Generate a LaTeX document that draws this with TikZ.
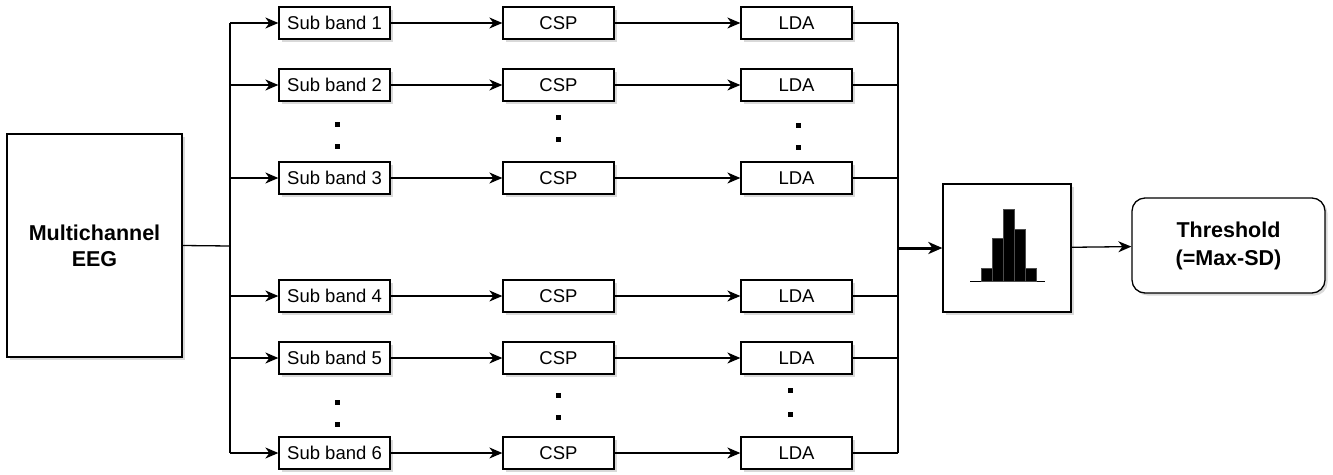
\documentclass[tikz,border=0pt]{standalone}
\usepackage{fontspec}
\setmainfont{Liberation Sans}
\usetikzlibrary{arrows.meta,shadows}
\begin{document}
\begin{tikzpicture}[x=1pt,y=-1pt,
  box/.style={draw,line width=1.3pt,fill=white,inner sep=0pt,
    drop shadow={shadow xshift=2.5pt,shadow yshift=-2.5pt,fill=black!25,opacity=0.6},
    font=\fontsize{18.5}{22}\selectfont},
  sb/.style={box,minimum width=111pt,minimum height=32pt},
  conn/.style={line width=1.3pt},
  arr/.style={conn,-{Stealth[length=13pt,width=11pt,inset=4pt]}},
  dot/.style={fill=black,inner sep=0pt,minimum size=5pt}]
\useasboundingbox (0,0) rectangle (1333,474);
% EEG
\node[box,minimum width=175pt,minimum height=223pt,align=center,
  font=\fontsize{21.5}{26}\selectfont\bfseries] (eeg) at (94.5,245.5) {Multichannel\\EEG};
% rows
\foreach \i/\y in {1/23,2/85,3/178,4/296,5/358,6/453}{
  \node[sb] (sb\i) at (334.5,\y) {Sub band \i};
  \node[sb] (csp\i) at (558.5,\y) {CSP};
  \node[sb] (lda\i) at (796.5,\y) {LDA};
  \coordinate (bl\i) at (230,\y);
  \coordinate (br\i) at (898,\y);
  \draw[arr] (bl\i) -- (sb\i);
  \draw[arr] (sb\i) -- (csp\i);
  \draw[arr] (csp\i) -- (lda\i);
  \draw[conn] (lda\i) -- (br\i);
}
% dots
\node[dot] (d1) at (337,124) {};
\node[dot] (d2) at (337,146) {};
\node[dot] (d3) at (558,117) {};
\node[dot] (d4) at (558,139) {};
\node[dot] (d5) at (798,125) {};
\node[dot] (d6) at (798,147) {};
\node[dot] (d7) at (337,402) {};
\node[dot] (d8) at (337,424) {};
\node[dot] (d9) at (558,395) {};
\node[dot] (d10) at (558,417) {};
\node[dot] (d11) at (790,390) {};
\node[dot] (d12) at (790,414) {};
% buses
\coordinate (busin) at (230,246);
\draw[conn] (eeg.east) -- (busin);
\draw[conn] (bl1) -- (bl6);
\draw[conn] (br1) -- (br6);
% histogram
\node[box,minimum width=128pt,minimum height=128pt] (hist) at (1007,248) {};
\coordinate (busout) at (898,248);
\draw[line width=3pt,-{Stealth[length=14pt,width=12pt,inset=4pt]}] (busout) -- (hist.west);
\draw[line width=1pt] (970,281) -- (1045,281);
\foreach \x/\t in {981/268,992/238,1003/209,1014/229,1025/268}{
  \draw[fill=black,draw=black!70,line width=0.6pt] (\x,281) rectangle (\x+11,\t);
}
% threshold
\node[box,rounded corners=13pt,minimum width=193pt,minimum height=95pt,align=center,
  font=\fontsize{21.5}{28}\selectfont\bfseries] (thr) at (1228.5,245.5) {Threshold\\(=Max-SD)};
\draw[arr] (hist) -- (thr);
\end{tikzpicture}
\end{document}
